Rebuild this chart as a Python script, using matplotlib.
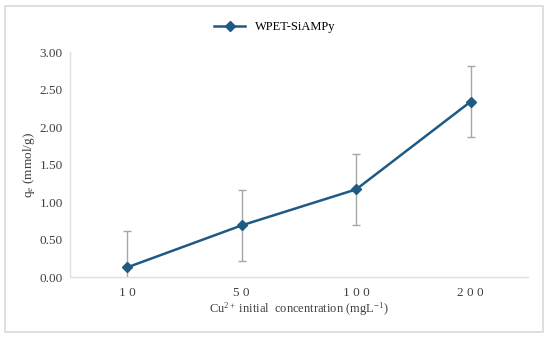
import matplotlib.pyplot as plt
from matplotlib.patches import Rectangle
from matplotlib.lines import Line2D
import numpy as np

categories = ["1 0", "5 0", "1 0 0", "2 0 0"]
qe = [0.13, 0.69, 1.17, 2.34]
qe_err = [0.48, 0.47, 0.47, 0.47]

plt.rcParams['font.family'] = ['Liberation Serif', 'DejaVu Serif']
plt.rcParams['mathtext.fontset'] = 'custom'
plt.rcParams['mathtext.rm'] = 'Liberation Serif'
plt.rcParams['mathtext.it'] = 'Liberation Serif:italic'

fig = plt.figure(figsize=(5.5, 3.38), dpi=100)
fig.patches.append(Rectangle((5 / 550, 6 / 338), 538 / 550, 326 / 338, transform=fig.transFigure,
                             fill=False, edgecolor='#d9d9d9', linewidth=1.2))
ax = fig.add_axes([0.127, 0.180, 0.833, 0.666])

line_c = '#1f5a85'
x = np.arange(len(categories))
ax.errorbar(x, qe, yerr=qe_err, color=line_c, linewidth=1.8, marker='D', markersize=5,
            ecolor='#a6a6a6', elinewidth=1, capsize=3, capthick=1)

ax.set_xlim(-0.5, len(categories) - 0.5)
ax.set_ylim(0, 3)
ax.set_yticks(np.arange(0, 3.01, 0.5))
ax.set_yticklabels([f"{v:.2f}" for v in np.arange(0, 3.01, 0.5)])
ax.set_xticks(x)
ax.set_xticklabels(categories)
ax.tick_params(length=0, labelsize=9.5, colors='#404040', pad=5)
ax.tick_params(axis='x', pad=7)

for s in ['top', 'right']:
    ax.spines[s].set_visible(False)
for s in ['left', 'bottom']:
    ax.spines[s].set_color('#e0e0e0')
    ax.spines[s].set_linewidth(1)

ax.set_ylabel('q$_\\mathregular{e}$ (mmol/g)', fontsize=9.5, color='#404040', labelpad=2)
ax.set_xlabel('Cu$^\\mathregular{2+}$ initial  concentration (mgL$^\\mathregular{-1}$)', fontsize=9,
              color='#404040', labelpad=1)

handle = Line2D([], [], color=line_c, linewidth=1.8, marker='D', markersize=5)
fig.legend([handle], ['WPET-SiAMPy'], loc='center', bbox_to_anchor=(275 / 550, 1 - 27 / 338),
           frameon=False, fontsize=9, handlelength=2.5)

fig.savefig('out.png', dpi=100)
